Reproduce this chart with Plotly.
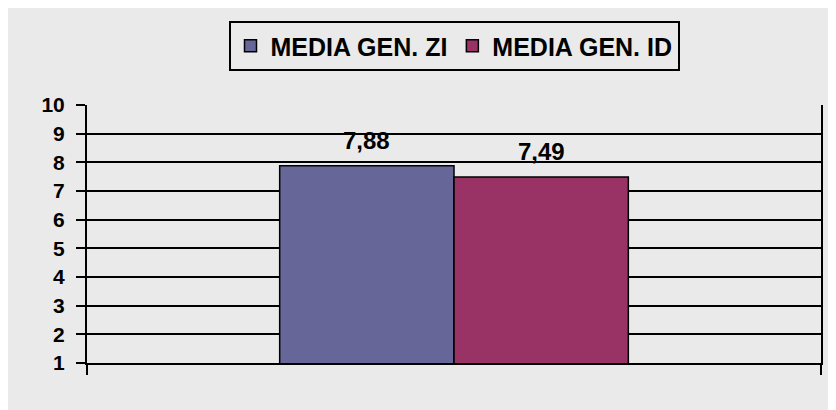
import plotly.graph_objects as go

categories = ["MEDIA"]
series_names = ["MEDIA GEN. ZI", "MEDIA GEN. ID"]
series_values = [[7.88], [7.49]]
series_colors = ["#666699", "#993366"]
y_ticks = [1, 2, 3, 4, 5, 6, 7, 8, 9, 10]

FONT = "Liberation Sans, Arial, sans-serif"
BG = "#EAEAEA"
BARGAP = 0.525

fig = go.Figure()
for name, vals, col in zip(series_names, series_values, series_colors):
    fig.add_trace(go.Bar(
        x=categories, y=vals, name=name,
        marker=dict(color=col, line=dict(color="#000000", width=1.5)),
        cliponaxis=False,
    ))

# value labels above bars (positions derived from the grouped-bar geometry)
n = len(series_names)
bw = (1 - BARGAP) / n
annotations = []
for i, vals in enumerate(series_values):
    for ci, v in enumerate(vals):
        xc = ci - (1 - BARGAP) / 2 + bw * (i + 0.5)
        annotations.append(dict(
            x=xc, y=v, xref="x", yref="y",
            text=f"<b>{v:.2f}</b>".replace(".", ","),
            showarrow=False, yanchor="bottom", yshift=10,
            font=dict(family=FONT, size=24, color="#000000"),
        ))

# the page body has an 8px margin, so the figure is drawn 8px right/down
W, H = 828, 402
L, R, T, B = 79, 15, 97, 47
ph = H - T - B

def px_y(p):
    return (H - B - p) / ph

fig.update_layout(
    width=W, height=H,
    margin=dict(l=L, r=R, t=T, b=B),
    paper_bgcolor=BG,
    plot_bgcolor=BG,
    barmode="group",
    bargap=BARGAP,
    bargroupgap=0,
    showlegend=True,
    annotations=annotations,
    legend=dict(
        orientation="h",
        x=0.5, xanchor="center",
        y=px_y(13), yanchor="top",
        bgcolor=BG,
        bordercolor="#000000", borderwidth=2,
        font=dict(family=FONT, size=25, color="#000000", weight="bold"),
        traceorder="normal",
    ),
    xaxis=dict(
        showticklabels=False,
        showline=True, linecolor="#000000", linewidth=2,
        ticks="outside", tickson="boundaries", ticklen=10,
        tickwidth=2, tickcolor="#000000",
        showgrid=False, zeroline=False,
    ),
    yaxis=dict(
        range=[1, 10],
        tickvals=y_ticks,
        showline=True, linecolor="#000000", linewidth=2, mirror=True,
        ticks="outside", ticklen=9, tickwidth=2, tickcolor="#000000",
        showgrid=True, gridcolor="#000000", gridwidth=2,
        zeroline=False,
        tickfont=dict(family=FONT, size=21, color="#000000", weight="bold"),
        ticklabelstandoff=7,
    ),
)

fig.write_html("out.html")
